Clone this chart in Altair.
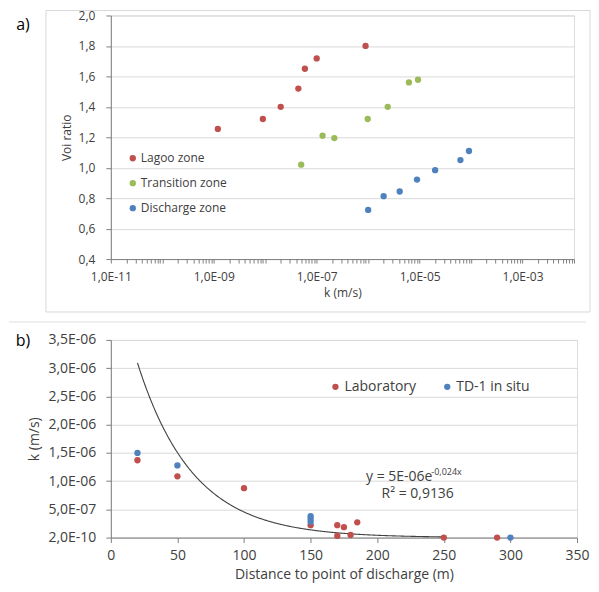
import altair as alt
import pandas as pd

# ---------------- Panel a) data ----------------
zones = ["Lagoo zone", "Transition zone", "Discharge zone"]
zone_colors = ["#C0504D", "#9BBB59", "#4F81BD"]

lagoon_k = [1.2e-9, 9.0e-9, 2.0e-8, 4.4e-8, 5.9e-8, 1.0e-7, 8.9e-7]
lagoon_e = [1.255, 1.32, 1.40, 1.52, 1.65, 1.718, 1.80]
transition_k = [5.0e-8, 1.3e-7, 2.2e-7, 9.8e-7, 2.4e-6, 6.2e-6, 9.3e-6]
transition_e = [1.02, 1.21, 1.195, 1.32, 1.40, 1.56, 1.578]
discharge_k = [1.0e-6, 2.0e-6, 4.1e-6, 8.9e-6, 2.0e-5, 6.2e-5, 9.1e-5]
discharge_e = [0.723, 0.813, 0.844, 0.922, 0.984, 1.05, 1.11]

x_label_exps = [-11, -9, -7, -5, -3]
x_label_texts = ["1,0E-11", "1,0E-09", "1,0E-07", "1,0E-05", "1,0E-03"]
y_a_ticks = [0.4, 0.6, 0.8, 1.0, 1.2, 1.4, 1.6, 1.8, 2.0]

# ---------------- Panel b) data ----------------
series_b = ["Laboratory", "TD-1 in situ"]
series_b_colors = ["#C0504D", "#4F81BD"]

lab_dist = [20, 50, 100, 150, 170, 170, 175, 180, 185, 250, 290]
lab_k = [1.37e-6, 1.085e-6, 8.75e-7, 2.2e-7, 2.2e-7, 3.0e-8, 1.85e-7, 4.6e-8, 2.7e-7, 2e-10, 2e-10]
td_dist = [20, 50, 150, 150, 150, 300]
td_k = [1.5e-6, 1.278e-6, 3.8e-7, 3.3e-7, 2.8e-7, 2e-10]

y_b_ticks = [2e-10 + n * 5e-7 for n in range(8)]
y_b_labels = ["2,0E-10", "5,0E-07", "1,0E-06", "1,5E-06", "2,0E-06", "2,5E-06", "3,0E-06", "3,5E-06"]
x_b_ticks = [0, 50, 100, 150, 200, 250, 300, 350]

# trendline printed on chart: y = 5E-06 e^(-0,024x)
trend_a = 5e-6
trend_b = -0.024
trend_start, trend_stop = 20, 252

eq_main = "y = 5E-06e"
eq_sup = "-0,024x"
eq_r2 = "R² = 0,9136"

FONT = "Open Sans"
TXT = "#404040"
AXC = "#808080"
GRID = "#d9d9d9"

# ---------------- Panel a) ----------------
rows = []
for name, ks, es in [(zones[0], lagoon_k, lagoon_e), (zones[1], transition_k, transition_e),
                     (zones[2], discharge_k, discharge_e)]:
    for k, e in zip(ks, es):
        rows.append({"zone": name, "k": k, "e": e})
df_a = pd.DataFrame(rows)

x_ticks_all = [float(f"{m}e{e}") for e in range(-11, -2) for m in range(1, 10)] + [1e-2]
label_expr = " : ".join(
    f"datum.value === {float(f'1e{e}')!r} ? '{t}'" for e, t in zip(x_label_exps, x_label_texts)
) + " : ''"

WA, HA = 464, 244

pts_a = alt.Chart(df_a).mark_circle(size=40, opacity=1).encode(
    x=alt.X("k:Q", scale=alt.Scale(type="log", domain=[1e-11, 1e-2], nice=False),
            axis=alt.Axis(title="k (m/s)", values=x_ticks_all, labelExpr=label_expr,
                          grid=False, tickSize=4, labelPadding=8, titlePadding=6,
                          labelFontSize=12, titleFontSize=12, labelFont=FONT, titleFont=FONT,
                          labelColor=TXT, titleColor=TXT, titleFontWeight="normal",
                          domainColor=AXC, tickColor=AXC, labelFlush=False, labelOverlap=False)),
    y=alt.Y("e:Q", scale=alt.Scale(domain=[0.4, 2.0], nice=False, zero=False),
            axis=alt.Axis(title="Voi ratio", values=y_a_ticks,
                          labelExpr="replace(format(datum.value, '.1f'), '.', ',')",
                          gridColor=GRID, tickSize=5, labelPadding=11, titlePadding=5,
                          labelFontSize=12, titleFontSize=12, labelFont=FONT, titleFont=FONT,
                          labelColor=TXT, titleColor=TXT, titleFontWeight="normal",
                          domainColor=AXC, tickColor=AXC, labelOverlap=False)),
    color=alt.Color("zone:N", sort=zones, scale=alt.Scale(domain=zones, range=zone_colors),
                    legend=alt.Legend(title=None, orient="none", legendX=16, legendY=137,
                                      symbolType="circle", symbolSize=40, labelFontSize=12,
                                      labelFont=FONT, labelColor=TXT, rowPadding=13,
                                      labelOffset=2, padding=0)),
)

one = pd.DataFrame({"t": [0]})
frame_a = alt.Chart(one).mark_rect(fillOpacity=0, stroke="#d9d9d9", strokeWidth=1).encode(
    x=alt.value(-65), x2=alt.value(480), y=alt.value(-5), y2=alt.value(297))
lab_a = alt.Chart(one).mark_text(text="a)", fontSize=16, font=FONT, color="#000000",
                                  align="center", baseline="middle").encode(
    x=alt.value(-88), y=alt.value(10))

top = alt.layer(frame_a, pts_a, lab_a).properties(width=WA, height=HA)

# ---------------- Panel b) ----------------
df_b = pd.concat([
    pd.DataFrame({"series": series_b[0], "d": lab_dist, "k": lab_k}),
    pd.DataFrame({"series": series_b[1], "d": td_dist, "k": td_k}),
], ignore_index=True)
df_b["order"] = df_b["series"].map({series_b[0]: 0, series_b[1]: 1})

WB, HB = 467, 198

xb = alt.X("d:Q", scale=alt.Scale(domain=[0, 350], nice=False),
           axis=alt.Axis(title="Distance to point of discharge (m)", values=x_b_ticks, format="d",
                         grid=False, tickSize=5, labelPadding=6, titlePadding=5,
                         labelFontSize=14, titleFontSize=14, labelFont=FONT, titleFont=FONT,
                         labelColor=TXT, titleColor=TXT, titleFontWeight="normal",
                         domainColor=AXC, tickColor=AXC, labelFlush=False, labelOverlap=False))
yb_expr = "[" + ",".join(f"'{s}'" for s in y_b_labels) + "][round((datum.value - 2e-10) / 5e-7)]"
yb = alt.Y("k:Q", scale=alt.Scale(domain=[y_b_ticks[0], y_b_ticks[-1]], nice=False, zero=False),
           axis=alt.Axis(title="k (m/s)", values=y_b_ticks, labelExpr=yb_expr,
                         gridColor=GRID, tickSize=5, labelPadding=10, titlePadding=7,
                         labelFontSize=14, titleFontSize=14, labelFont=FONT, titleFont=FONT,
                         labelColor=TXT, titleColor=TXT, titleFontWeight="normal",
                         domainColor=AXC, tickColor=AXC, labelOverlap=False))

trend = alt.Chart(alt.sequence(trend_start, trend_stop, 0.5, as_="d")).transform_calculate(
    k=f"{trend_a} * exp({trend_b} * datum.d)"
).mark_line(color="#404040", strokeWidth=1.1).encode(x=xb, y=yb)

pts_b = alt.Chart(df_b).mark_circle(size=40, opacity=1).encode(
    x=xb, y=yb,
    order=alt.Order("order:Q"),
    color=alt.Color("series:N", sort=series_b, scale=alt.Scale(domain=series_b, range=series_b_colors),
                    legend=alt.Legend(title=None, orient="none", legendX=218, legendY=40,
                                      direction="horizontal", symbolType="circle", symbolSize=40,
                                      labelFontSize=14, labelFont=FONT, labelColor=TXT,
                                      columnPadding=24, labelOffset=2, padding=0)),
)

eq_df_main = pd.DataFrame({"d": [191.6], "k": [1.0675e-6], "t": [eq_main]})
eq_df_sup = pd.DataFrame({"d": [240.6], "k": [1.16e-6], "t": [eq_sup]})
eq_df_r2 = pd.DataFrame({"d": [230.4], "k": [7.7e-7], "t": [eq_r2]})

eq1 = alt.Chart(eq_df_main).mark_text(fontSize=14, font=FONT, color=TXT, align="left",
                                      baseline="middle").encode(x=xb, y=yb, text="t:N")
eq2 = alt.Chart(eq_df_sup).mark_text(fontSize=9, font=FONT, color=TXT, align="left",
                                     baseline="middle").encode(x=xb, y=yb, text="t:N")
eq3 = alt.Chart(eq_df_r2).mark_text(fontSize=14, font=FONT, color=TXT, align="center",
                                    baseline="middle").encode(x=xb, y=yb, text="t:N")

sep_b = alt.Chart(one).mark_rule(color="#e0e0e0", strokeWidth=1).encode(
    x=alt.value(-102), x2=alt.value(476), y=alt.value(-18))
lab_b = alt.Chart(one).mark_text(text="b)", fontSize=16, font=FONT, color="#000000",
                                  align="center", baseline="middle").encode(
    x=alt.value(-88), y=alt.value(1))

bottom = alt.layer(sep_b, trend, pts_b, eq1, eq2, eq3, lab_b).properties(width=WB, height=HB)

chart = alt.vconcat(top, bottom, spacing=8).resolve_scale(color="independent").resolve_legend(
    color="independent"
).properties(padding=0).configure_view(stroke=AXC, strokeWidth=1).configure(background="white")

chart.save("out.html", embed_options={"renderer": "svg", "actions": False})
